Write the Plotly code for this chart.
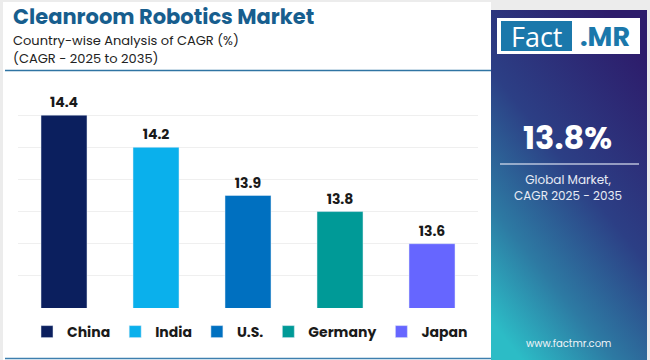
import plotly.graph_objects as go

countries = ["China", "India", "U.S.", "Germany", "Japan"]
cagr = [14.4, 14.2, 13.9, 13.8, 13.6]
colors = ["#0b1f5e", "#0ab0ec", "#0070c0", "#009a97", "#6666ff"]
title = "Cleanroom Robotics Market"
subtitle1 = "Country-wise Analysis of CAGR (%)"
subtitle2 = "(CAGR - 2025 to 2035)"
global_value = "13.8%"
global_label = "Global Market,<br>CAGR 2025 - 2035"
website = "www.factmr.com"

W, H = 650, 360
L, R, T, B = 18, 478, 83, 308  # plot area in pixels
FONT = "Poppins, Inter, Noto Sans, sans-serif"


def px(x):
    return (x - L) / (R - L)


def py(y):
    return (B - y) / (B - T)


fig = go.Figure()
for c, v, col in zip(countries, cagr, colors):
    fig.add_trace(go.Bar(
        x=[c], y=[v], name=c, marker_color=col, width=0.5,
        texttemplate="%{y:.1f}", textposition="outside",
        textfont=dict(family=FONT, size=14, color="#1a1a1a", weight="bold"),
        cliponaxis=False,
    ))

shapes = [
    # white card
    dict(type="rect", xref="paper", yref="paper", x0=px(3), x1=px(491), y0=py(2), y1=py(360),
         fillcolor="white", line_width=0, layer="below"),
    # separator line under subtitle
    dict(type="line", xref="paper", yref="paper", x0=px(5), x1=px(491), y0=py(70.5), y1=py(70.5),
         line=dict(color="#2f74a3", width=1.5)),
    # bottom line
    dict(type="line", xref="paper", yref="paper", x0=px(5), x1=px(491), y0=py(358.5), y1=py(358.5),
         line=dict(color="#3d7fae", width=1.5)),
    # logo white box
    dict(type="rect", xref="paper", yref="paper", x0=px(497), x1=px(640), y0=py(18), y1=py(54),
         fillcolor="white", line_width=0),
    dict(type="rect", xref="paper", yref="paper", x0=px(501), x1=px(572), y0=py(21), y1=py(51),
         fillcolor="#1b78ab", line_width=0),
    # separator in panel
    dict(type="line", xref="paper", yref="paper", x0=px(500), x1=px(639), y0=py(164), y1=py(164),
         line=dict(color="rgba(220,225,240,0.8)", width=1.5)),
]

svg = ("<svg xmlns='http://www.w3.org/2000/svg' width='156' height='350' preserveAspectRatio='none'>"
       "<defs><linearGradient id='g' x1='0.75' y1='0' x2='0.2' y2='1'>"
       "<stop offset='0' stop-color='%232d1c6b'/>"
       "<stop offset='0.45' stop-color='%232c3f85'/>"
       "<stop offset='0.75' stop-color='%232d7aa3'/>"
       "<stop offset='1' stop-color='%232cbcc6'/>"
       "</linearGradient></defs><rect width='156' height='350' fill='url(%23g)'/></svg>")
images = [dict(source="data:image/svg+xml;utf8," + svg, xref="paper", yref="paper",
               x=px(491), y=py(10), sizex=px(647) - px(491), sizey=py(10) - py(360),
               sizing="stretch", xanchor="left", yanchor="top", layer="below")]

annotations = [
    dict(text=f"<b>{title}</b>", x=px(11), y=py(16), xanchor="left", yanchor="middle",
         font=dict(family=FONT, size=21, color="#175e8e")),
    dict(text=subtitle1, x=px(11), y=py(40), xanchor="left", yanchor="middle",
         font=dict(family=FONT, size=13, color="#222222")),
    dict(text=subtitle2, x=px(11), y=py(58.5), xanchor="left", yanchor="middle",
         font=dict(family=FONT, size=13, color="#222222")),
    dict(text="Fact", x=px(536.5), y=py(36), xanchor="center", yanchor="middle",
         font=dict(family="Open Sans, sans-serif", size=27, color="white")),
    dict(text="<b>.MR</b>", x=px(605), y=py(36), xanchor="center", yanchor="middle",
         font=dict(family=FONT, size=27, color="#1b78ab")),
    dict(text=f"<b>{global_value}</b>", x=px(567), y=py(137), xanchor="center", yanchor="middle",
         font=dict(family=FONT, size=32, color="white")),
    dict(text=global_label, x=px(568), y=py(187), xanchor="center", yanchor="middle",
         font=dict(family=FONT, size=12, color="#e8ecf5")),
    dict(text=website, x=px(568), y=py(343), xanchor="center", yanchor="middle",
         font=dict(family=FONT, size=10, color="#f0f4f8")),
]
for a in annotations:
    a.update(xref="paper", yref="paper", showarrow=False)

fig.update_layout(
    width=W, height=H,
    margin=dict(l=L, r=W - R, t=T, b=H - B, pad=0, autoexpand=False),
    paper_bgcolor="#ececec", plot_bgcolor="white",
    bargap=0.5,
    showlegend=True,
    legend=dict(orientation="h", x=px(250), y=py(332), xanchor="center", yanchor="middle",
                font=dict(family=FONT, size=14, color="#1a1a1a", weight="bold"),
                bgcolor="rgba(0,0,0,0)", traceorder="normal"),
    xaxis=dict(showticklabels=False, showgrid=False, zeroline=False, showline=False,
               categoryorder="array", categoryarray=countries),
    yaxis=dict(range=[13.2, 14.6], dtick=0.2, showticklabels=False, showgrid=True,
               gridcolor="#efefef", gridwidth=1, zeroline=False, showline=False),
    shapes=shapes, images=images, annotations=annotations,
)

fig.write_html("out.html", config={"displayModeBar": False},
               post_script="document.body.style.margin='0';document.body.style.overflow='hidden';")
